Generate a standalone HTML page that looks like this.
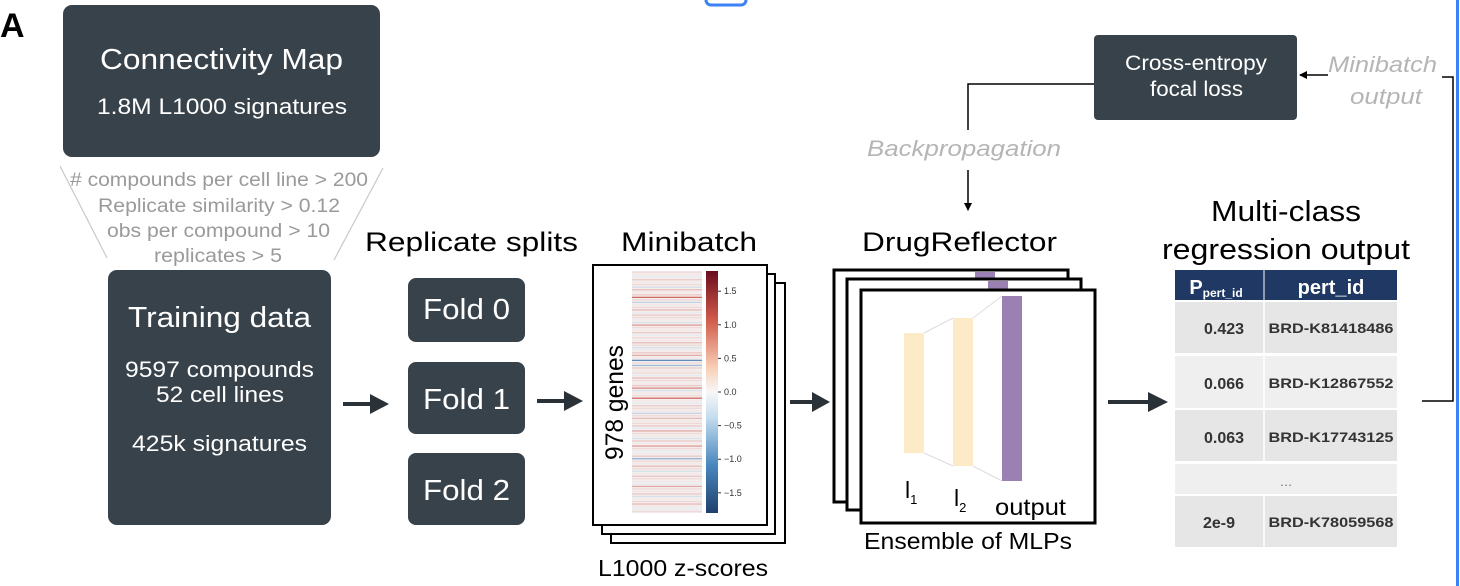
<!DOCTYPE html>
<html><head><meta charset="utf-8"><style>
html,body{margin:0;padding:0;background:#fff;}
svg{display:block;font-family:"Liberation Sans",sans-serif;}
</style></head><body>
<svg id="fig" width="1460" height="586" viewBox="0 0 1460 586" xmlns="http://www.w3.org/2000/svg">
<defs>
<marker id="ah" markerWidth="8" markerHeight="8" refX="7" refY="4" orient="auto" markerUnits="userSpaceOnUse"><path d="M0,0 L8,4 L0,8 z" fill="#000"/></marker>
<linearGradient id="cb" x1="0" y1="1" x2="0" y2="0">
<stop offset="0" stop-color="#1f3f6e"/><stop offset="0.2" stop-color="#4a88be"/><stop offset="0.4" stop-color="#c6def0"/><stop offset="0.5" stop-color="#f7f7f7"/><stop offset="0.6" stop-color="#f8cfb6"/><stop offset="0.8" stop-color="#d05a49"/><stop offset="1" stop-color="#6b0d1f"/>
</linearGradient>
</defs>
<g fill="#3b82f6"><rect x="706" y="-6" width="40" height="11" rx="5" fill="none" stroke="#3b82f6" stroke-width="3"/><rect x="1456" y="0" width="3" height="586"/></g>
<text x="0" y="37" font-size="34" font-weight="bold">A</text>

<g>
<rect x="63" y="5" width="317" height="152" rx="9" fill="#37424a"/>
<text x="100" y="69" font-size="29" fill="#fff" textLength="243" lengthAdjust="spacingAndGlyphs">Connectivity Map</text>
<text x="97" y="114" font-size="22" fill="#fff" textLength="250" lengthAdjust="spacingAndGlyphs">1.8M L1000 signatures</text>
</g>
<g fill="#9a9a9a" font-size="19">
<line x1="60" y1="166" x2="107" y2="258" stroke="#c8c8c8" stroke-width="1.2"/>
<line x1="383" y1="168" x2="334" y2="260" stroke="#c8c8c8" stroke-width="1.2"/>
<text x="70" y="186" textLength="298" lengthAdjust="spacingAndGlyphs"># compounds per cell line &gt; 200</text>
<text x="98" y="212" textLength="242" lengthAdjust="spacingAndGlyphs">Replicate similarity &gt; 0.12</text>
<text x="107" y="237" textLength="223" lengthAdjust="spacingAndGlyphs">obs per compound &gt; 10</text>
<text x="154" y="262" textLength="128" lengthAdjust="spacingAndGlyphs">replicates &gt; 5</text>
</g>
<g fill="#fff">
<rect x="108" y="270" width="223" height="255" rx="9" fill="#37424a"/>
<text x="128" y="327" font-size="29" textLength="183" lengthAdjust="spacingAndGlyphs">Training data</text>
<text x="125" y="377" font-size="22" textLength="189" lengthAdjust="spacingAndGlyphs">9597 compounds</text>
<text x="156" y="402" font-size="22" textLength="128" lengthAdjust="spacingAndGlyphs">52 cell lines</text>
<text x="132" y="451" font-size="22" textLength="175" lengthAdjust="spacingAndGlyphs">425k signatures</text>
</g>
<g stroke="#2a3238" stroke-width="4" fill="#2a3238">
<line x1="343" y1="404" x2="372" y2="404"/><path d="M370,394 L389,404 L370,414z" stroke="none"/>
<line x1="537" y1="401" x2="566" y2="401"/><path d="M564,391 L583,401 L564,411z" stroke="none"/>
<line x1="790" y1="402" x2="814" y2="402"/><path d="M812,392 L830,402 L812,412z" stroke="none"/>
<line x1="1108" y1="402" x2="1150" y2="402"/><path d="M1148,392 L1168,402 L1148,412z" stroke="none"/>
</g>
<text x="365" y="251" font-size="27" textLength="213" lengthAdjust="spacingAndGlyphs">Replicate splits</text>
<g fill="#37424a">
<rect x="408" y="278" width="117" height="64" rx="8"/><rect x="408" y="362" width="117" height="72" rx="8"/><rect x="408" y="453" width="117" height="72" rx="8"/>
<g fill="#fff" font-size="29"><text x="423" y="319" textLength="87" lengthAdjust="spacingAndGlyphs">Fold 0</text><text x="423" y="409" textLength="87" lengthAdjust="spacingAndGlyphs">Fold 1</text><text x="423" y="500" textLength="87" lengthAdjust="spacingAndGlyphs">Fold 2</text></g>
</g>
<text x="621" y="251" font-size="27" textLength="136" lengthAdjust="spacingAndGlyphs">Minibatch</text>
<g fill="#fff" stroke="#000" stroke-width="2">
<rect x="611" y="283" width="174" height="260"/><rect x="602" y="274" width="173" height="260"/><rect x="593" y="265" width="174" height="260"/>
</g>
<rect x="632" y="271" width="70" height="242" fill="#f3efee"/>
<g id="heat"></g>
<rect x="706" y="271" width="12" height="242" fill="url(#cb)"/>
<g id="cbticks" font-size="9" fill="#333"></g>
<text transform="translate(623,460) rotate(-90)" font-size="25" textLength="115" lengthAdjust="spacingAndGlyphs">978 genes</text>
<text x="598" y="576" font-size="23" textLength="170" lengthAdjust="spacingAndGlyphs">L1000 z-scores</text>

<text x="862" y="251" font-size="27" textLength="195" lengthAdjust="spacingAndGlyphs">DrugReflector</text>
<g>
<rect x="834" y="270" width="234" height="232" fill="#fff" stroke="#000" stroke-width="3"/>
<rect x="975" y="272" width="20" height="8" fill="#9b80b3"/>
<rect x="847" y="279" width="234" height="231" fill="#fff" stroke="#000" stroke-width="3"/>
<rect x="988" y="281" width="20" height="8" fill="#9b80b3"/>
<rect x="861" y="290" width="234" height="233" fill="#fff" stroke="#000" stroke-width="3"/>
<polyline points="924,333 953,318" fill="none" stroke="#ddd"/><polyline points="924,453 953,466" fill="none" stroke="#ddd"/>
<polyline points="973,318 1002,296" fill="none" stroke="#ddd"/><polyline points="973,466 1002,481" fill="none" stroke="#ddd"/>
<rect x="904" y="333" width="20" height="120" fill="#fdebc8"/>
<rect x="953" y="318" width="20" height="148" fill="#fdebc8"/>
<rect x="1002" y="296" width="20" height="185" fill="#9b80b3"/>
<text x="905" y="498" font-size="23">l<tspan font-size="13" dy="6">1</tspan></text>
<text x="954" y="506" font-size="23">l<tspan font-size="13" dy="6">2</tspan></text>
<text x="995" y="515" font-size="23" textLength="71" lengthAdjust="spacingAndGlyphs">output</text>
</g>
<text x="864" y="549" font-size="23" textLength="208" lengthAdjust="spacingAndGlyphs">Ensemble of MLPs</text>

<g stroke="#000" stroke-width="1.5" fill="none">
<polyline points="1094,84 968,84 968,130"/>
<line x1="968" y1="170" x2="968" y2="210" marker-end="url(#ah)"/>
<line x1="1328" y1="75" x2="1300" y2="75" marker-end="url(#ah)"/>
<polyline points="1442,77 1453,77 1453,401 1422,401"/>
</g>
<text x="867" y="156" font-size="22" font-style="italic" fill="#b5b5b5" textLength="194" lengthAdjust="spacingAndGlyphs">Backpropagation</text>
<g fill="#fff" font-size="21">
<rect x="1094" y="35" width="203" height="85" rx="4" fill="#37424a"/>
<text x="1125" y="70" textLength="142" lengthAdjust="spacingAndGlyphs">Cross-entropy</text>
<text x="1150" y="96" textLength="93" lengthAdjust="spacingAndGlyphs">focal loss</text>
</g>
<g font-size="22" font-style="italic" fill="#b5b5b5">
<text x="1328" y="72" textLength="109" lengthAdjust="spacingAndGlyphs">Minibatch</text><text x="1350" y="104" textLength="72" lengthAdjust="spacingAndGlyphs">output</text>
</g>
<g font-size="29">
<text x="1211" y="221" textLength="150" lengthAdjust="spacingAndGlyphs">Multi-class</text><text x="1162" y="259" textLength="248" lengthAdjust="spacingAndGlyphs">regression output</text>
</g>
<g font-weight="bold" text-anchor="middle">
<rect x="1175" y="270" width="222" height="30" fill="#1f3864"/>
<line x1="1264" y1="270" x2="1264" y2="300" stroke="#fff"/>
<text x="1216" y="294" font-size="20" fill="#fff">P<tspan font-size="12" dy="3">pert_id</tspan></text>
<text x="1331" y="294" font-size="20" fill="#fff">pert_id</text>
<rect x="1175" y="302" width="222" height="51" fill="#e6e6e6"/>
<rect x="1175" y="356" width="222" height="52" fill="#efefef"/>
<rect x="1175" y="410" width="222" height="51" fill="#e6e6e6"/>
<rect x="1175" y="464" width="222" height="30" fill="#efefef"/>
<rect x="1175" y="496" width="222" height="51" fill="#e6e6e6"/>
<g stroke="#fff" stroke-width="1.5"><line x1="1264" y1="302" x2="1264" y2="461"/><line x1="1264" y1="496" x2="1264" y2="547"/></g>
<g fill="#333" font-size="16">
<text x="1224" y="334">0.423</text><text x="1224" y="389">0.066</text><text x="1224" y="443">0.063</text><text x="1219" y="528">2e-9</text>
</g>
<g fill="#333" font-size="14">
<text x="1331" y="333" textLength="125" lengthAdjust="spacingAndGlyphs">BRD-K81418486</text><text x="1331" y="388" textLength="125" lengthAdjust="spacingAndGlyphs">BRD-K12867552</text><text x="1331" y="442" textLength="125" lengthAdjust="spacingAndGlyphs">BRD-K17743125</text><text x="1331" y="527" textLength="125" lengthAdjust="spacingAndGlyphs">BRD-K78059568</text>
</g>
<text x="1286" y="486" font-size="13" fill="#666" font-weight="normal">…</text>
</g>
</svg>
<script>
const geneValues=[0.2,0.1,-0.1,0.3,0.1,0.2,-0.2,0.4,0.1,0.3,0.9,0.2,-0.3,0.1,0.2,0.4,-0.1,0.3,0.2,0.1,-0.2,0.6,0.2,0.1,0.3,-0.1,0.2,0.1,0.4,0.2,-0.2,0.1,0.3,0.5,0.1,-0.9,0.2,-0.5,0.3,0.1,0.2,-0.1,0.4,0.2,0.1,0.3,0.7,-0.2,0.1,0.2,0.9,0.1,-0.1,0.3,0.2,0.1,-0.3,0.2,0.4,0.1,0.2,0.3,-0.1,0.5,0.2,0.1,-0.2,0.3,0.1,0.6,0.2,-0.1,0.1,0.3,-0.6,0.2,0.1,0.4,0.2,-0.2,0.1,0.3,0.2,0.1,-0.1,0.5,0.2,0.1,0.3,-0.2,0.1,0.2,0.4,0.1,-0.1,0.2];
const cbTickValues=[1.5,1.0,0.5,0.0,-0.5,-1.0,-1.5];
const cbTickLabels=["1.5","1.0","0.5","0.0","\u22120.5","\u22121.0","\u22121.5"];
const NS="http://www.w3.org/2000/svg";
const hx=632,hw=70,hy=271,hh=242,vmax=1.8;
function yScale(v){return hy+hh/2-(v/vmax)*(hh/2);}
function color(v){const t=Math.max(-1,Math.min(1,v/vmax));
 const lerp=(a,b,s)=>a.map((x,i)=>Math.round(x+(b[i]-x)*s));
 const c=t>=0?lerp([247,247,247],[202,72,62],Math.min(1,t*1.6)):lerp([247,247,247],[58,115,175],Math.min(1,-t*1.6));
 return `rgb(${c[0]},${c[1]},${c[2]})`;}
const heat=document.getElementById('heat');
const step=hh/geneValues.length;
geneValues.forEach((v,i)=>{const r=document.createElementNS(NS,'rect');
 r.setAttribute('x',hx);r.setAttribute('y',hy+i*step+0.5);r.setAttribute('width',hw);r.setAttribute('height',1.3);
 r.setAttribute('fill',color(v));
 
 
 heat.appendChild(r);});
const cbt=document.getElementById('cbticks');
cbTickValues.forEach((v,i)=>{const y=yScale(v);
 const l=document.createElementNS(NS,'line');l.setAttribute('x1',718);l.setAttribute('x2',721);l.setAttribute('y1',y);l.setAttribute('y2',y);l.setAttribute('stroke','#333');
 
 
 cbt.appendChild(l);
 const t=document.createElementNS(NS,'text');t.setAttribute('x',724);t.setAttribute('y',y+3);t.textContent=cbTickLabels[i];
 
 
 cbt.appendChild(t);});
</script>
</body></html>
